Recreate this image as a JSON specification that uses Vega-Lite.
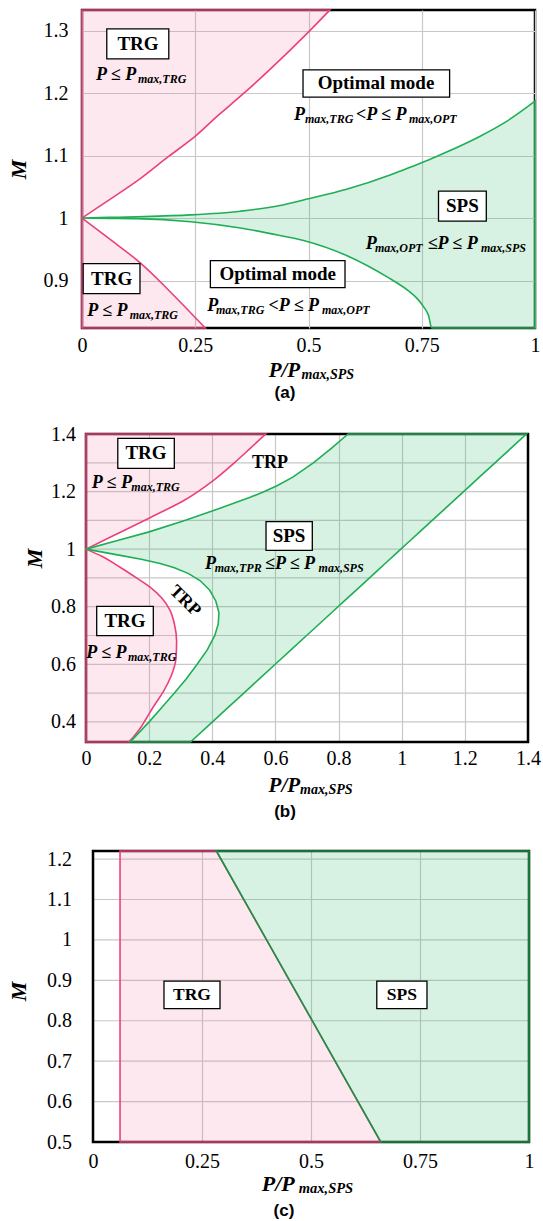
{
  "$schema": "https://vega.github.io/schema/vega-lite/v6.json",
  "background": "white",
  "padding": {"left": 5, "top": 5, "right": 0, "bottom": 0},
  "config": {
    "view": {"stroke": "#000", "strokeWidth": 2.5},
    "axis": {"labelFont": "Liberation Serif", "labelFontSize": 20, "labelColor": "#000", "ticks": false, "domain": false, "gridColor": "#c8c8c8", "gridWidth": 1.2, "labelFlush": false, "labelOverlap": false, "labelBound": false, "titleFont": "Liberation Serif", "titleFontSize": 22, "titleFontWeight": "bold", "titleFontStyle": "italic", "titleColor": "#000", "titleBaseline": "middle", "titleAlign": "center"},
    "text": {"font": "Liberation Serif", "color": "#000"}
  },
  "datasets": {
    "a_pink_lo": [{"M":0.824,"P":0.272},{"M":0.878,"P":0.2},{"M":0.93,"P":0.126},{"M":0.967,"P":0.06},{"M":1.0,"P":0}],
    "a_pink_hi": [{"M":1.0,"P":0},{"M":1.029,"P":0.06},{"M":1.059,"P":0.121},{"M":1.099,"P":0.192},{"M":1.125,"P":0.24},{"M":1.164,"P":0.3},{"M":1.197,"P":0.353},{"M":1.238,"P":0.415},{"M":1.292,"P":0.492},{"M":1.333,"P":0.547}],
    "a_green": [{"P":0,"Mu":1,"Ml":1},{"P":0.06,"Mu":1.001,"Ml":0.9995},{"P":0.12,"Mu":1.002,"Ml":0.999},{"P":0.24,"Mu":1.005,"Ml":0.994},{"P":0.35,"Mu":1.011,"Ml":0.984},{"P":0.437,"Mu":1.02,"Ml":0.972},{"P":0.489,"Mu":1.029,"Ml":0.964},{"P":0.584,"Mu":1.046,"Ml":0.94},{"P":0.68,"Mu":1.069,"Ml":0.903},{"P":0.7,"Mu":1.0745,"Ml":0.894},{"P":0.72,"Mu":1.08,"Ml":0.884},{"P":0.74,"Mu":1.0857,"Ml":0.871},{"P":0.755,"Mu":1.09,"Ml":0.857},{"P":0.765,"Mu":1.093,"Ml":0.844},{"P":0.772,"Mu":1.0952,"Ml":0.824},{"P":0.8,"Mu":1.104,"Ml":0.824},{"P":0.879,"Mu":1.131,"Ml":0.824},{"P":0.94,"Mu":1.156,"Ml":0.824},{"P":1.0,"Mu":1.187,"Ml":0.824}],
    "a_box": [
      {"label":"TRG","x1":0.0547,"x2":0.1916,"y1":1.3029,"y2":1.2549,"tx":0.1236,"ty":1.2789},
      {"label":"Optimal mode","x1":0.4879,"x2":0.8115,"y1":1.2373,"y2":1.1936,"tx":0.649,"ty":1.2155},
      {"label":"SPS","x1":0.787,"x2":0.8925,"y1":1.0432,"y2":0.9952,"tx":0.8397,"ty":1.0192},
      {"label":"TRG","x1":0.0026,"x2":0.128,"y1":0.9269,"y2":0.8789,"tx":0.0653,"ty":0.9029},
      {"label":"Optimal mode","x1":0.2834,"x2":0.5806,"y1":0.9317,"y2":0.8885,"tx":0.432,"ty":0.9101}
    ],
    "a_big": [
      {"x":0.0309,"y":1.2203,"t":"P ≤ P"},
      {"x":0.468,"y":1.1563,"t":"P"},{"x":0.6049,"y":1.1563,"t":"<P ≤ P"},
      {"x":0.6263,"y":0.9509,"t":"P"},{"x":0.763,"y":0.9509,"t":"≤P ≤ P"},
      {"x":0.0117,"y":0.8432,"t":"P ≤ P"},
      {"x":0.2766,"y":0.8507,"t":"P"},{"x":0.4119,"y":0.8507,"t":"<P ≤ P"}
    ],
    "a_sub": [
      {"x":0.128,"y":1.2203,"t":"max,TRG"},
      {"x":0.4967,"y":1.1563,"t":"max,TRG"},{"x":0.7263,"y":1.1563,"t":"max,OPT"},
      {"x":0.6512,"y":0.9509,"t":"max,OPT"},{"x":0.8852,"y":0.9509,"t":"max,SPS"},
      {"x":0.1097,"y":0.8432,"t":"max,TRG"},
      {"x":0.3002,"y":0.8507,"t":"max,TRG"},{"x":0.5342,"y":0.8507,"t":"max,OPT"}
    ],
    "b_grid": [{"M":0.4},{"M":0.5},{"M":0.6},{"M":0.7},{"M":0.8},{"M":0.9},{"M":1.0},{"M":1.1},{"M":1.2},{"M":1.3}],
    "b_pink_lo": [{"M":0.33,"P":0.135},{"M":0.345,"P":0.148},{"M":0.375,"P":0.17},{"M":0.41,"P":0.19},{"M":0.455,"P":0.215},{"M":0.505,"P":0.245},{"M":0.56,"P":0.27},{"M":0.62,"P":0.285},{"M":0.68,"P":0.287},{"M":0.74,"P":0.28},{"M":0.79,"P":0.265},{"M":0.83,"P":0.24},{"M":0.868,"P":0.203},{"M":0.9,"P":0.16},{"M":0.937,"P":0.108},{"M":0.975,"P":0.05},{"M":1.0,"P":0}],
    "b_pink_hi": [{"M":1.0,"P":0},{"M":1.041,"P":0.076},{"M":1.111,"P":0.206},{"M":1.169,"P":0.31},{"M":1.24,"P":0.405},{"M":1.3,"P":0.47},{"M":1.35,"P":0.52},{"M":1.4,"P":0.569}],
    "b_green": [{"M":0.33,"Pl":0.14,"Pr":0.331},{"M":0.4,"Pl":0.2,"Pr":0.4006},{"M":0.45,"Pl":0.24,"Pr":0.4503},{"M":0.5,"Pl":0.28,"Pr":0.5},{"M":0.55,"Pl":0.318,"Pr":0.5498},{"M":0.6,"Pl":0.352,"Pr":0.5995},{"M":0.65,"Pl":0.384,"Pr":0.6492},{"M":0.7,"Pl":0.408,"Pr":0.6989},{"M":0.74,"Pl":0.419,"Pr":0.7387},{"M":0.78,"Pl":0.421,"Pr":0.7785},{"M":0.82,"Pl":0.411,"Pr":0.8183},{"M":0.857,"Pl":0.392,"Pr":0.8551},{"M":0.89,"Pl":0.362,"Pr":0.8879},{"M":0.915,"Pl":0.325,"Pr":0.9127},{"M":0.935,"Pl":0.28,"Pr":0.9326},{"M":0.95,"Pl":0.235,"Pr":0.9475},{"M":0.965,"Pl":0.175,"Pr":0.9624},{"M":0.98,"Pl":0.1,"Pr":0.9774},{"M":1.0,"Pl":0,"Pr":0.9972},{"M":1.03,"Pl":0.1,"Pr":1.0271},{"M":1.06,"Pl":0.2,"Pr":1.0569},{"M":1.1,"Pl":0.315,"Pr":1.0967},{"M":1.14,"Pl":0.42,"Pr":1.1365},{"M":1.18,"Pl":0.52,"Pr":1.1762},{"M":1.2,"Pl":0.565,"Pr":1.1961},{"M":1.22,"Pl":0.605,"Pr":1.216},{"M":1.25,"Pl":0.655,"Pr":1.2458},{"M":1.3,"Pl":0.72,"Pr":1.2956},{"M":1.35,"Pl":0.777,"Pr":1.3453},{"M":1.4,"Pl":0.83,"Pr":1.395}],
    "b_box": [
      {"label":"TRG","x1":0.1007,"x2":0.2797,"y1":1.3847,"y2":1.2807,"tx":0.19,"ty":1.3327},
      {"label":"SPS","x1":0.5702,"x2":0.7168,"y1":1.0959,"y2":0.9954,"tx":0.643,"ty":1.0456},
      {"label":"TRG","x1":0.0339,"x2":0.2132,"y1":0.8012,"y2":0.6996,"tx":0.1235,"ty":0.7502}
    ],
    "b_big": [
      {"x":0.018,"y":1.2128,"t":"P ≤ P"},
      {"x":0.377,"y":0.9319,"t":"P"},{"x":0.567,"y":0.9319,"t":"≤P ≤ P"},
      {"x":0.001,"y":0.6219,"t":"P ≤ P"}
    ],
    "b_sub": [
      {"x":0.1498,"y":1.2128,"t":"max,TRG"},
      {"x":0.414,"y":0.9319,"t":"max,TPR"},{"x":0.7431,"y":0.9319,"t":"max,SPS"},
      {"x":0.1394,"y":0.6219,"t":"max,TRG"}
    ],
    "b_trp": [{"x":0.5828,"y":1.3005,"t":"TRP"}],
    "b_trp_rot": [{"x":0.3136,"y":0.8196,"t":"TRP"}],
    "c_grid": [{"M":0.6},{"M":0.7},{"M":0.8},{"M":0.9},{"M":1.0},{"M":1.1},{"M":1.2}],
    "c_pink": [{"M":0.5,"Pl":0.062,"Pr":0.66},{"M":1.22,"Pl":0.062,"Pr":0.283}],
    "c_green": [{"M":0.5,"Pl":0.66,"Pr":1},{"M":1.22,"Pl":0.283,"Pr":1}],
    "c_box": [
      {"label":"TRG","x1":0.1628,"x2":0.2913,"y1":0.8978,"y2":0.8298,"tx":0.2271,"ty":0.8638},
      {"label":"SPS","x1":0.6509,"x2":0.766,"y1":0.8978,"y2":0.8298,"tx":0.7085,"ty":0.8638}
    ]
  },
  "concat": [
    {
      "width": 453, "height": 318,
      "layer": [
        {"data": {"name": "a_pink_lo"},
         "mark": {"type": "area", "orient": "horizontal", "interpolate": "monotone", "fill": "#f06292", "fillOpacity": 0.15, "stroke": "#ec407a", "strokeWidth": 1.6},
         "encoding": {
           "x": {"field": "P", "type": "quantitative", "scale": {"domain": [0, 1], "nice": false, "zero": false},
                 "axis": {"values": [0, 0.25, 0.5, 0.75, 1], "labelExpr": "format(datum.value, '~g')", "labelPadding": 7, "title": null, "grid": true}},
           "x2": {"datum": 0},
           "y": {"field": "M", "type": "quantitative", "scale": {"domain": [0.824, 1.333], "nice": false, "zero": false},
                 "axis": {"values": [0.9, 1, 1.1, 1.2, 1.3], "labelExpr": "format(datum.value, '~g')", "labelPadding": 14, "title": "M", "titleX": -64, "titleY": 159, "grid": true}}
         }},
        {"data": {"name": "a_pink_hi"},
         "mark": {"type": "area", "orient": "horizontal", "interpolate": "monotone", "fill": "#f06292", "fillOpacity": 0.15, "stroke": "#ec407a", "strokeWidth": 1.6},
         "encoding": {"x": {"field": "P", "type": "quantitative"}, "x2": {"datum": 0}, "y": {"field": "M", "type": "quantitative"}}},
        {"data": {"name": "a_green"},
         "mark": {"type": "area", "orient": "vertical", "interpolate": "monotone", "fill": "#2cb866", "fillOpacity": 0.19, "stroke": "#1fae55", "strokeWidth": 1.6},
         "encoding": {"x": {"field": "P", "type": "quantitative"}, "y": {"field": "Mu", "type": "quantitative"}, "y2": {"field": "Ml"}}},
        {"data": {"name": "a_box"},
         "mark": {"type": "rect", "fill": "#fff", "stroke": "#000", "strokeWidth": 1.3},
         "encoding": {"x": {"field": "x1", "type": "quantitative"}, "x2": {"field": "x2"}, "y": {"field": "y1", "type": "quantitative"}, "y2": {"field": "y2"}}},
        {"data": {"name": "a_box"},
         "mark": {"type": "text", "fontSize": 19, "fontWeight": "bold", "baseline": "middle", "align": "center"},
         "encoding": {"x": {"field": "tx", "type": "quantitative"}, "y": {"field": "ty", "type": "quantitative"}, "text": {"field": "label"}}},
        {"data": {"name": "a_big"},
         "mark": {"type": "text", "fontSize": 18, "fontWeight": "bold", "fontStyle": "italic", "align": "left", "baseline": "alphabetic"},
         "encoding": {"x": {"field": "x", "type": "quantitative"}, "y": {"field": "y", "type": "quantitative"}, "text": {"field": "t"}}},
        {"data": {"name": "a_sub"},
         "mark": {"type": "text", "fontSize": 12, "fontWeight": "bold", "fontStyle": "italic", "align": "left", "baseline": "alphabetic", "dy": 3, "dx": -2},
         "encoding": {"x": {"field": "x", "type": "quantitative"}, "y": {"field": "y", "type": "quantitative"}, "text": {"field": "t"}}},
        {"data": {"values": [{}]},
         "mark": {"type": "text", "text": "P/P", "fontSize": 21, "fontWeight": "bold", "fontStyle": "italic", "align": "left", "baseline": "alphabetic", "dy": 49},
         "encoding": {"x": {"datum": 0.412, "type": "quantitative"}, "y": {"datum": 0.824, "type": "quantitative"}}},
        {"data": {"values": [{}]},
         "mark": {"type": "text", "text": "max,SPS", "fontSize": 14, "fontWeight": "bold", "fontStyle": "italic", "align": "left", "baseline": "alphabetic", "dy": 51},
         "encoding": {"x": {"datum": 0.4848, "type": "quantitative"}, "y": {"datum": 0.824, "type": "quantitative"}}},
        {"data": {"values": [{}]},
         "mark": {"type": "text", "text": "(a)", "font": "Liberation Sans", "fontSize": 17, "fontWeight": "bold", "align": "center", "baseline": "middle", "dy": 65},
         "encoding": {"x": {"datum": 0.448, "type": "quantitative"}, "y": {"datum": 0.824, "type": "quantitative"}}}
      ]
    },
    {
      "width": 446, "height": 308,
      "view": {"stroke": null},
      "layer": [
        {"data": {"name": "b_grid"},
         "mark": {"type": "rule", "color": "#c8c8c8", "strokeWidth": 1.2},
         "encoding": {
           "y": {"field": "M", "type": "quantitative", "scale": {"domain": [0.33, 1.4], "nice": false, "zero": false},
                 "axis": {"values": [0.4, 0.6, 0.8, 1, 1.2, 1.4], "labelExpr": "format(datum.value, '~g')", "labelPadding": 6.5, "title": "M", "titleX": -48, "titleY": 124, "grid": false}},
           "x": {"datum": 0, "type": "quantitative", "scale": {"domain": [-0.01267, 1.4], "nice": false, "zero": false},
                 "axis": {"values": [0, 0.2, 0.4, 0.6, 0.8, 1, 1.2, 1.4], "labelExpr": "format(datum.value, '~g')", "labelPadding": 6, "title": null, "grid": true}},
           "x2": {"datum": 1.4}
         }},
        {"data": {"values": [{}]},
         "mark": {"type": "rect", "fillOpacity": 0, "stroke": "#000", "strokeWidth": 2.5},
         "encoding": {"x": {"datum": 0, "type": "quantitative"}, "x2": {"datum": 1.4}, "y": {"datum": 0.33, "type": "quantitative"}, "y2": {"datum": 1.4}}},
        {"data": {"name": "b_pink_lo"},
         "mark": {"type": "area", "orient": "horizontal", "interpolate": "monotone", "fill": "#f06292", "fillOpacity": 0.15, "stroke": "#ec407a", "strokeWidth": 1.6},
         "encoding": {"x": {"field": "P", "type": "quantitative"}, "x2": {"datum": 0}, "y": {"field": "M", "type": "quantitative"}}},
        {"data": {"name": "b_pink_hi"},
         "mark": {"type": "area", "orient": "horizontal", "interpolate": "monotone", "fill": "#f06292", "fillOpacity": 0.15, "stroke": "#ec407a", "strokeWidth": 1.6},
         "encoding": {"x": {"field": "P", "type": "quantitative"}, "x2": {"datum": 0}, "y": {"field": "M", "type": "quantitative"}}},
        {"data": {"name": "b_green"},
         "mark": {"type": "area", "orient": "horizontal", "fill": "#2cb866", "fillOpacity": 0.19, "stroke": "#1fae55", "strokeWidth": 1.6},
         "encoding": {"x": {"field": "Pl", "type": "quantitative"}, "x2": {"field": "Pr"}, "y": {"field": "M", "type": "quantitative"}}},
        {"data": {"name": "b_box"},
         "mark": {"type": "rect", "fill": "#fff", "stroke": "#000", "strokeWidth": 1.3},
         "encoding": {"x": {"field": "x1", "type": "quantitative"}, "x2": {"field": "x2"}, "y": {"field": "y1", "type": "quantitative"}, "y2": {"field": "y2"}}},
        {"data": {"name": "b_box"},
         "mark": {"type": "text", "fontSize": 19, "fontWeight": "bold", "baseline": "middle", "align": "center"},
         "encoding": {"x": {"field": "tx", "type": "quantitative"}, "y": {"field": "ty", "type": "quantitative"}, "text": {"field": "label"}}},
        {"data": {"name": "b_trp"},
         "mark": {"type": "text", "fontSize": 18, "fontWeight": "bold", "baseline": "middle", "align": "center"},
         "encoding": {"x": {"field": "x", "type": "quantitative"}, "y": {"field": "y", "type": "quantitative"}, "text": {"field": "t"}}},
        {"data": {"name": "b_trp_rot"},
         "mark": {"type": "text", "fontSize": 18, "fontWeight": "bold", "baseline": "middle", "align": "center", "angle": 45},
         "encoding": {"x": {"field": "x", "type": "quantitative"}, "y": {"field": "y", "type": "quantitative"}, "text": {"field": "t"}}},
        {"data": {"name": "b_big"},
         "mark": {"type": "text", "fontSize": 18, "fontWeight": "bold", "fontStyle": "italic", "align": "left", "baseline": "alphabetic"},
         "encoding": {"x": {"field": "x", "type": "quantitative"}, "y": {"field": "y", "type": "quantitative"}, "text": {"field": "t"}}},
        {"data": {"name": "b_sub"},
         "mark": {"type": "text", "fontSize": 12, "fontWeight": "bold", "fontStyle": "italic", "align": "left", "baseline": "alphabetic", "dy": 3, "dx": -2},
         "encoding": {"x": {"field": "x", "type": "quantitative"}, "y": {"field": "y", "type": "quantitative"}, "text": {"field": "t"}}},
        {"data": {"values": [{}]},
         "mark": {"type": "text", "text": "P/P", "fontSize": 21, "fontWeight": "bold", "fontStyle": "italic", "align": "left", "baseline": "alphabetic", "dy": 50},
         "encoding": {"x": {"datum": 0.5784, "type": "quantitative"}, "y": {"datum": 0.33, "type": "quantitative"}}},
        {"data": {"values": [{}]},
         "mark": {"type": "text", "text": "max,SPS", "fontSize": 14, "fontWeight": "bold", "fontStyle": "italic", "align": "left", "baseline": "alphabetic", "dy": 52},
         "encoding": {"x": {"datum": 0.6779, "type": "quantitative"}, "y": {"datum": 0.33, "type": "quantitative"}}},
        {"data": {"values": [{}]},
         "mark": {"type": "text", "text": "(b)", "font": "Liberation Sans", "fontSize": 17, "fontWeight": "bold", "align": "center", "baseline": "middle", "dy": 70},
         "encoding": {"x": {"datum": 0.6304, "type": "quantitative"}, "y": {"datum": 0.33, "type": "quantitative"}}}
      ]
    },
    {
      "width": 447, "height": 291,
      "view": {"stroke": null},
      "layer": [
        {"data": {"name": "c_grid"},
         "mark": {"type": "rule", "color": "#c8c8c8", "strokeWidth": 1.2},
         "encoding": {
           "y": {"field": "M", "type": "quantitative", "scale": {"domain": [0.5, 1.22], "nice": false, "zero": false},
                 "axis": {"values": [0.5, 0.6, 0.7, 0.8, 0.9, 1, 1.1, 1.2], "labelExpr": "format(datum.value, '~g')", "labelPadding": 10.5, "title": "M", "titleX": -64, "titleY": 140, "grid": false}},
           "x": {"datum": 0, "type": "quantitative", "scale": {"domain": [-0.02523, 1], "nice": false, "zero": false},
                 "axis": {"values": [0, 0.25, 0.5, 0.75, 1], "labelExpr": "format(datum.value, '~g')", "labelPadding": 9, "title": null, "grid": true}},
           "x2": {"datum": 1}
         }},
        {"data": {"values": [{}]},
         "mark": {"type": "text", "text": " ", "opacity": 0, "fontSize": 6, "baseline": "bottom", "align": "center", "dy": -4},
         "encoding": {"x": {"datum": 0.5, "type": "quantitative"}, "y": {"datum": 1.22, "type": "quantitative"}}},
        {"data": {"values": [{}]},
         "mark": {"type": "rect", "fillOpacity": 0, "stroke": "#000", "strokeWidth": 2.5},
         "encoding": {"x": {"datum": 0, "type": "quantitative"}, "x2": {"datum": 1}, "y": {"datum": 0.5, "type": "quantitative"}, "y2": {"datum": 1.22}}},
        {"data": {"name": "c_pink"},
         "mark": {"type": "area", "orient": "horizontal", "fill": "#f06292", "fillOpacity": 0.15, "stroke": "#ec407a", "strokeWidth": 1.6},
         "encoding": {"x": {"field": "Pl", "type": "quantitative"}, "x2": {"field": "Pr"}, "y": {"field": "M", "type": "quantitative"}}},
        {"data": {"name": "c_green"},
         "mark": {"type": "area", "orient": "horizontal", "fill": "#2cb866", "fillOpacity": 0.19, "stroke": "#1c9248", "strokeWidth": 1.6},
         "encoding": {"x": {"field": "Pl", "type": "quantitative"}, "x2": {"field": "Pr"}, "y": {"field": "M", "type": "quantitative"}}},
        {"data": {"name": "c_box"},
         "mark": {"type": "rect", "fill": "#fff", "stroke": "#000", "strokeWidth": 1.3},
         "encoding": {"x": {"field": "x1", "type": "quantitative"}, "x2": {"field": "x2"}, "y": {"field": "y1", "type": "quantitative"}, "y2": {"field": "y2"}}},
        {"data": {"name": "c_box"},
         "mark": {"type": "text", "fontSize": 17.5, "fontWeight": "bold", "baseline": "middle", "align": "center"},
         "encoding": {"x": {"field": "tx", "type": "quantitative"}, "y": {"field": "ty", "type": "quantitative"}, "text": {"field": "label"}}},
        {"data": {"values": [{}]},
         "mark": {"type": "text", "text": "P/P", "fontSize": 22, "fontWeight": "bold", "fontStyle": "italic", "align": "left", "baseline": "alphabetic", "dy": 49},
         "encoding": {"x": {"datum": 0.3869, "type": "quantitative"}, "y": {"datum": 0.5, "type": "quantitative"}}},
        {"data": {"values": [{}]},
         "mark": {"type": "text", "text": "max,SPS", "fontSize": 14.5, "fontWeight": "bold", "fontStyle": "italic", "align": "left", "baseline": "alphabetic", "dy": 51},
         "encoding": {"x": {"datum": 0.472, "type": "quantitative"}, "y": {"datum": 0.5, "type": "quantitative"}}},
        {"data": {"values": [{}]},
         "mark": {"type": "text", "text": "(c)", "font": "Liberation Sans", "fontSize": 17, "fontWeight": "bold", "align": "center", "baseline": "middle", "dy": 69},
         "encoding": {"x": {"datum": 0.438, "type": "quantitative"}, "y": {"datum": 0.5, "type": "quantitative"}}}
      ]
    }
  ],
  "columns": 1,
  "spacing": 21
}
